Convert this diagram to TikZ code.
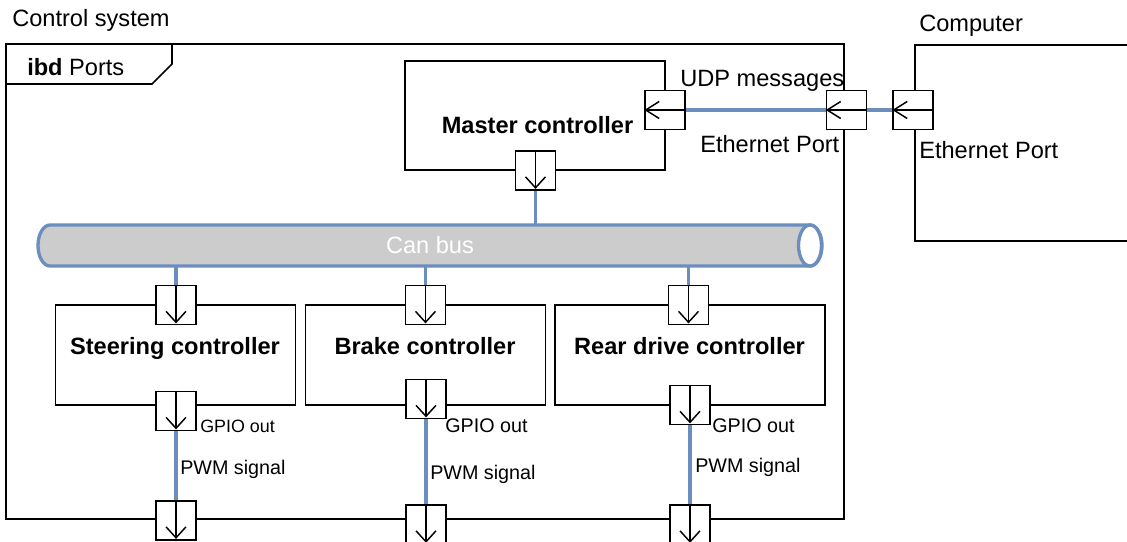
\documentclass[tikz,border=0pt]{standalone}
\usepackage{fontspec}
\setmainfont{Liberation Sans}
\usetikzlibrary{calc}
\definecolor{linkblue}{HTML}{6C8EBF}
\definecolor{busgray}{HTML}{CCCCCC}
\begin{document}
\begin{tikzpicture}[x=0.75pt,y=-0.75pt,
  txt/.style={font=\fontsize{17.7}{20}\selectfont,inner sep=0pt,anchor=base west},
  small/.style={font=\fontsize{14.8}{17}\selectfont,inner sep=0pt,anchor=base west},
  blocklabel/.style={font=\bfseries\fontsize{17.7}{20}\selectfont,inner sep=0pt,anchor=base},
  frameline/.style={draw=black,line width=1.3pt},
  block/.style={draw=black,line width=1.2pt,fill=white,inner sep=0pt},
  portbox/.style={draw=black,line width=1.2pt,fill=white,inner sep=0pt,minimum width=30pt,minimum height=29.25pt},
  portarrow/.style={draw=black,line width=1.1pt,line join=miter},
  wire/.style={draw=linkblue,line width=2.6pt},
  busline/.style={draw=linkblue,line width=2.5pt}]
\useasboundingbox (0,0) rectangle (1127,542);
% outer frame
\node[block,fill=none,line width=1.3pt,minimum width=628.5pt,minimum height=356.25pt] (sysframe) at (425,281.5) {};
\draw[frameline] (6,84) -- (152,84) -- (172,64) -- (172,44);
\node[txt] (systitle) at (12,26.5) {Control system};
\node[txt] (ibd) at (27,75) {\textbf{ibd} Ports};
% computer
\node[block,anchor=north west,minimum width=172.5pt,minimum height=147pt] (computer) at (914,44) {};
\node[txt] (comptitle) at (919,32) {Computer};
% blocks
\node[block,minimum width=195pt,minimum height=81.75pt] (master) at (535,115.5) {};
\node[blocklabel] (masterlbl) at (537.5,133) {Master controller};
\node[block,minimum width=180pt,minimum height=75pt] (steer) at (175.5,355) {};
\node[blocklabel] (steerlbl) at (175,354.5) {Steering controller};
\node[block,minimum width=180pt,minimum height=75pt] (brake) at (425.5,355) {};
\node[blocklabel] (brakelbl) at (425,354.5) {Brake controller};
\node[block,minimum width=202.5pt,minimum height=75pt] (rear) at (690,355) {};
\node[blocklabel] (rearlbl) at (689.5,354.5) {Rear drive controller};
% bus
\path[fill=busgray,busline] (810,225) -- (50,225) arc[start angle=270,end angle=90,x radius=12,y radius=20.5] -- (810,266) arc[start angle=90,end angle=-90,x radius=12,y radius=20.5] -- cycle;
\draw[busline,fill=white] (810,245.5) ellipse[x radius=11.5,y radius=20.5];
\node[inner sep=0pt,minimum width=588pt,minimum height=30.75pt,text=white,font=\fontsize{17.7}{20}\selectfont] (bus) at (430,245.5) {Can bus};
% ports
\node[portbox] (mpr) at (665,110) {};
\node[portbox] (mpb) at (535.5,170.5) {};
\node[portbox] (fpr) at (846.5,110) {};
\node[portbox] (cpl) at (913,110) {};
\node[portbox] (stt) at (176,305) {};
\node[portbox] (stb) at (176,411) {};
\node[portbox] (stl) at (176,520.5) {};
\node[portbox] (brt) at (425.5,305) {};
\node[portbox] (brb) at (426,399) {};
\node[portbox] (brl) at (426,524.5) {};
\node[portbox] (rdt) at (688.5,305) {};
\node[portbox] (rdb) at (690,405) {};
\node[portbox] (rdl) at (690,524.5) {};
% port arrows
\foreach \p in {mpr,fpr,cpl}{
  \draw[portarrow] (\p.east) -- ($(\p.west)+(1.5,0)$);
  \draw[portarrow] ($(\p.west)+(15,-8.5)$) -- ($(\p.west)+(1.5,0)$) -- ($(\p.west)+(15,8.5)$);
}
\foreach \p in {mpb,stt,stb,stl,brt,brb,brl,rdt,rdb,rdl}{
  \draw[portarrow] (\p.north) -- ($(\p.south)+(0,-3)$);
  \draw[portarrow] ($(\p.south)+(-10,-14)$) -- ($(\p.south)+(0,-3)$) -- ($(\p.south)+(10,-14)$);
}
% connectors
\draw[wire] (mpr.east) -- (fpr.west);
\draw[wire] (fpr.east) -- (cpl.west);
\draw[wire] (mpb.south) -- (mpb.south |- bus.north);
\draw[wire] (bus.south -| stt.north) -- (stt.north);
\draw[wire] (bus.south -| brt.north) -- (brt.north);
\draw[wire] (bus.south -| rdt.north) -- (rdt.north);
\draw[wire] (stb.south) -- (stl.north);
\draw[wire] (brb.south) -- (brl.north);
\draw[wire] (rdb.south) -- (rdl.north);
% labels
\node[txt] (udp) at (680,87) {UDP messages};
\node[txt] (ethf) at (700,152) {Ethernet Port};
\node[txt] (ethc) at (919,158) {Ethernet Port};
\node[small,font=\fontsize{13.4}{16}\selectfont] (gpio1) at (200,432) {GPIO out};
\node[small] (gpio2) at (445,432) {GPIO out};
\node[small] (gpio3) at (712,432.5) {GPIO out};
\node[small] (pwm1) at (180,474) {PWM signal};
\node[small] (pwm2) at (430,479) {PWM signal};
\node[small] (pwm3) at (695,472.5) {PWM signal};
\end{tikzpicture}
\end{document}
